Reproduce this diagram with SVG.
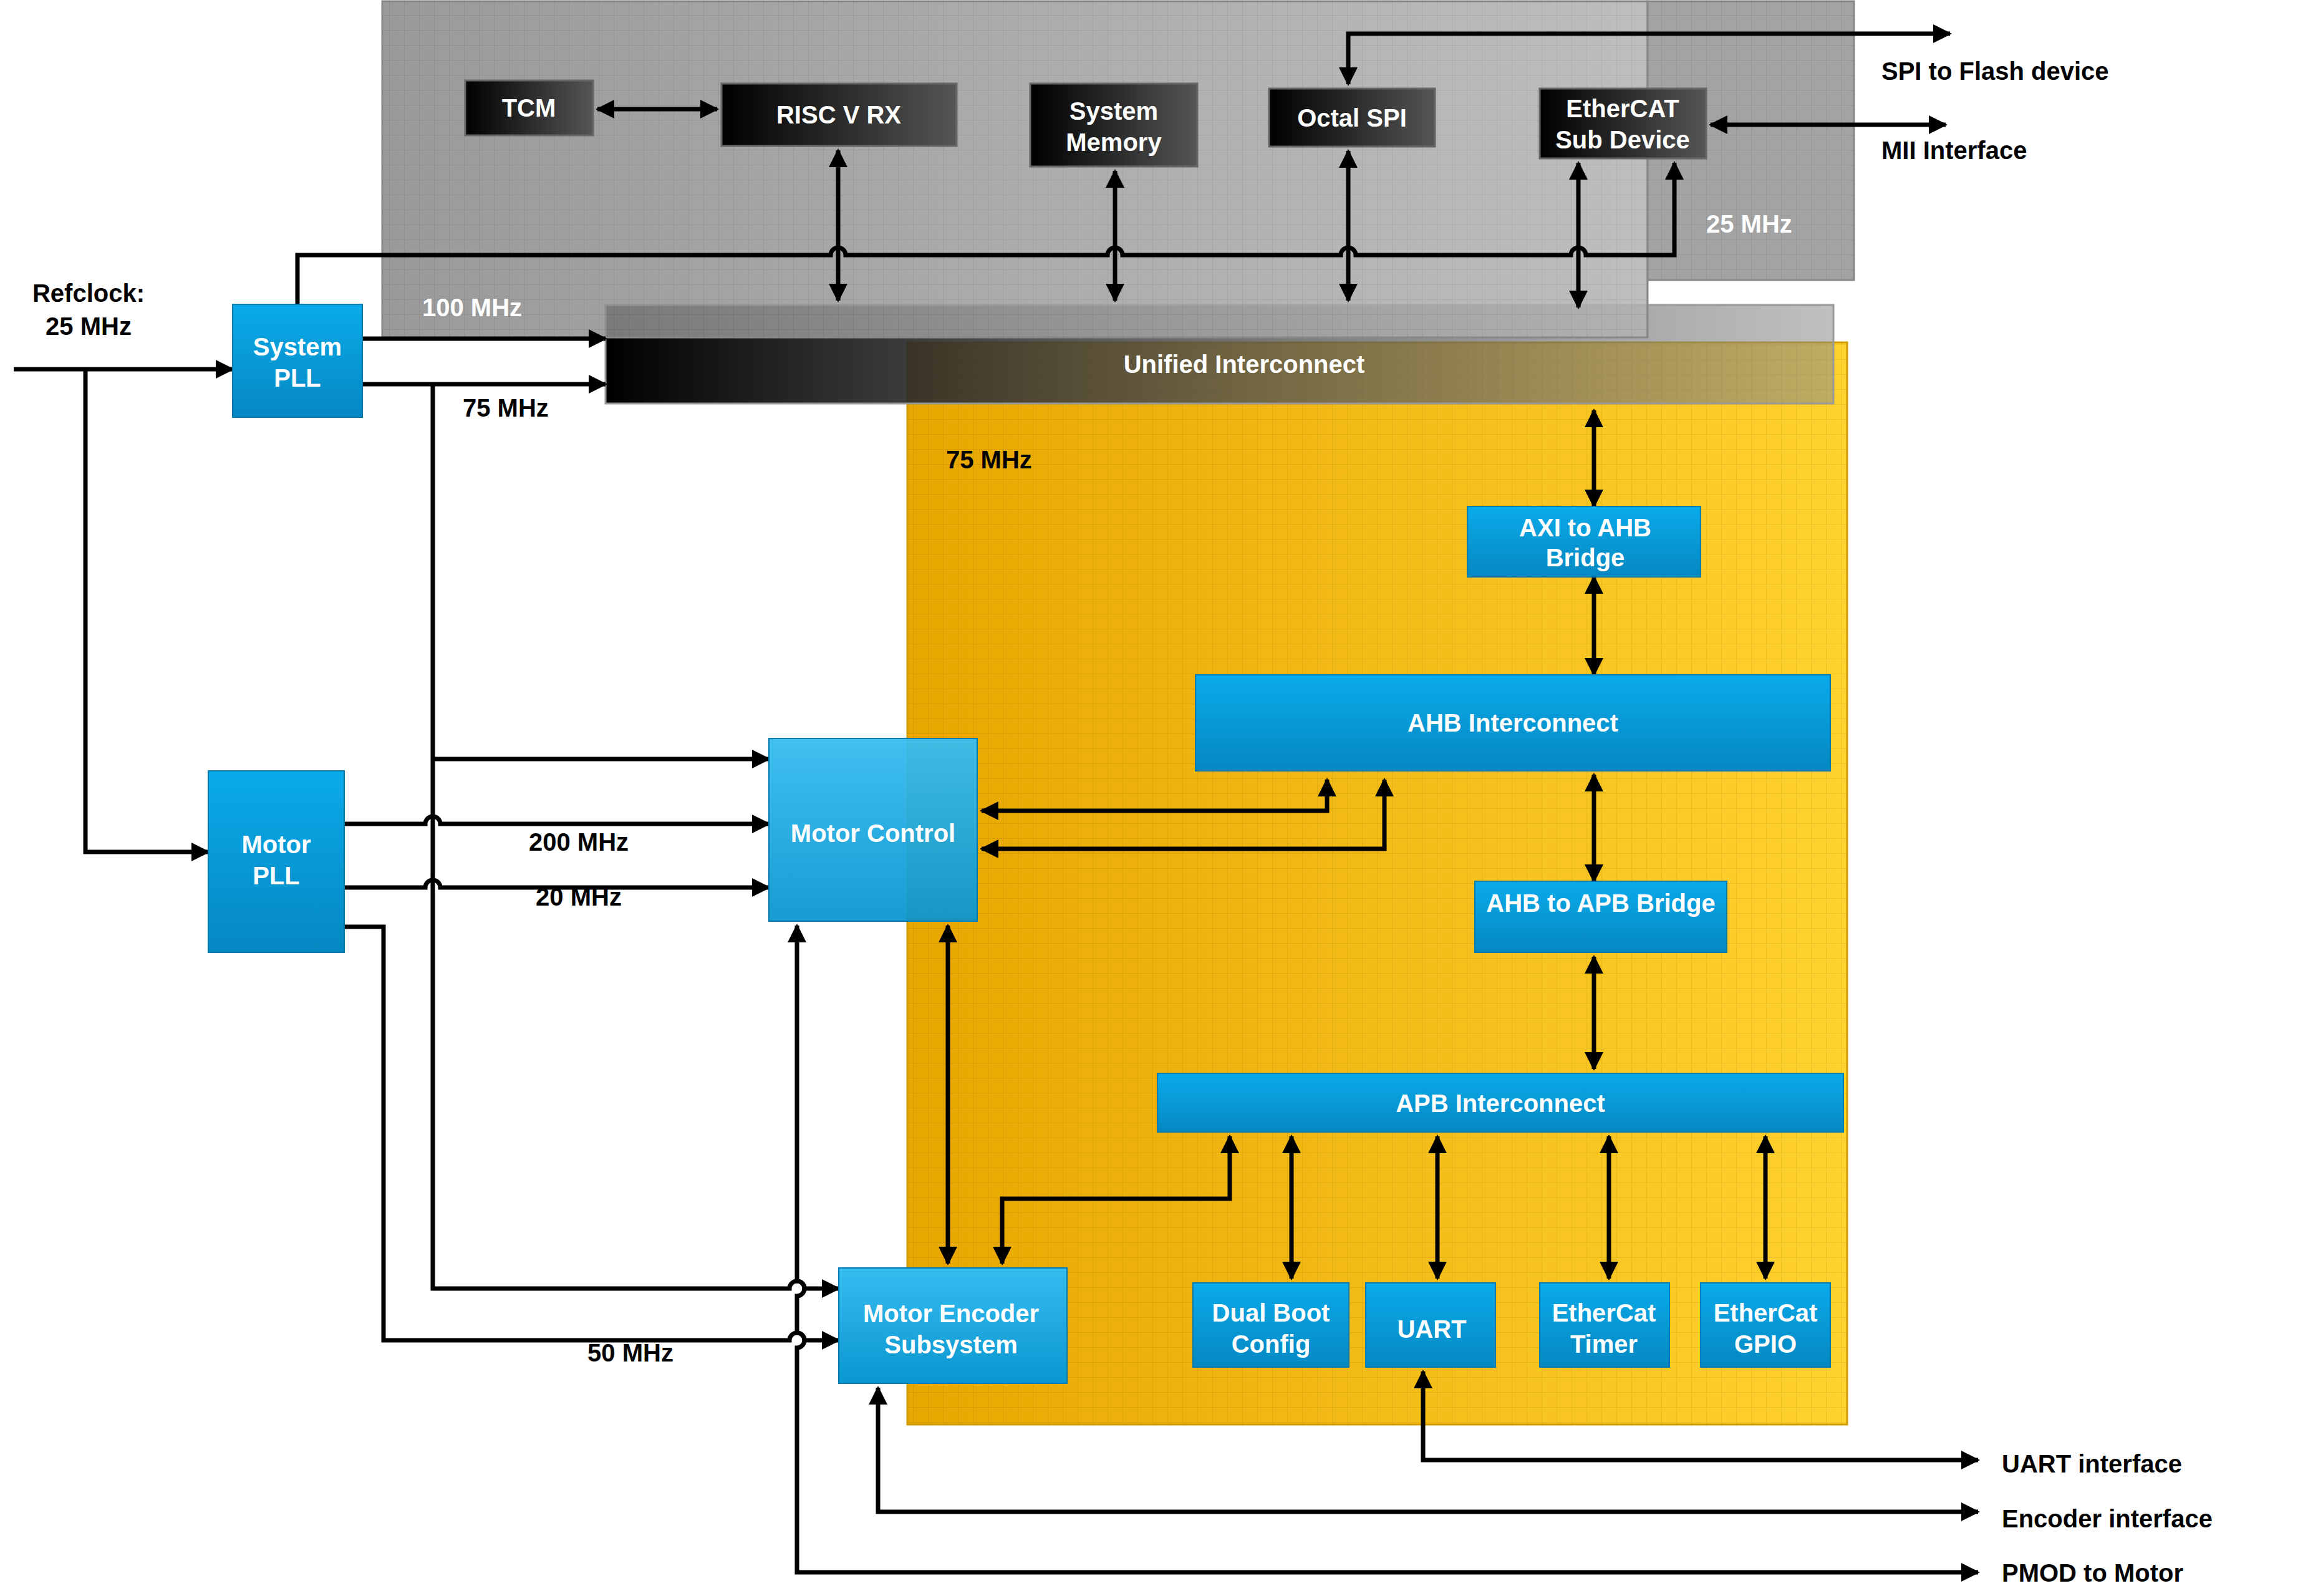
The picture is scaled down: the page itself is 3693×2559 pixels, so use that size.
<svg xmlns="http://www.w3.org/2000/svg" width="3693" height="2559" viewBox="0 0 3693 2559">
<defs>
<linearGradient id="gGray" x1="0" x2="1" y1="0" y2="0"><stop offset="0" stop-color="#888"/><stop offset="1" stop-color="#b2b2b2"/></linearGradient>
<linearGradient id="gYel" x1="0" x2="1" y1="0" y2="0"><stop offset="0" stop-color="#e8a600"/><stop offset="1" stop-color="#ffd22e"/></linearGradient>
<linearGradient id="gUni" x1="0" x2="1" y1="0" y2="0"><stop offset="0" stop-color="#000" stop-opacity="1"/><stop offset="0.3" stop-color="#333" stop-opacity="0.9"/><stop offset="1" stop-color="#8c8c8c" stop-opacity="0.55"/></linearGradient>
<linearGradient id="gBlk" x1="0" x2="1" y1="0" y2="0"><stop offset="0" stop-color="#000"/><stop offset="1" stop-color="#555"/></linearGradient>
<linearGradient id="gBlue" x1="0" x2="0" y1="0" y2="1"><stop offset="0" stop-color="#0aaaea"/><stop offset="1" stop-color="#0588c2"/></linearGradient>
<linearGradient id="gBlue2" x1="0" x2="0" y1="0" y2="1"><stop offset="0" stop-color="#36bdf0"/><stop offset="1" stop-color="#0a96d0"/></linearGradient>
<pattern id="grid" width="24" height="24" patternUnits="userSpaceOnUse"><path d="M24 0H0V24" fill="none" stroke="#000" stroke-opacity="0.07" stroke-width="2"/></pattern>
<marker id="ah" viewBox="0 0 10 10" refX="9" refY="5" markerWidth="30" markerHeight="30" markerUnits="userSpaceOnUse" orient="auto-start-reverse"><path d="M0 0L10 5L0 10z" fill="#000"/></marker>
</defs>
<style>
.l{fill:none;stroke:#000;stroke-width:7}
.t{font-family:"Liberation Sans",Arial,sans-serif;font-weight:bold;font-size:40px;fill:#fff;text-anchor:middle}
.k{font-family:"Liberation Sans",Arial,sans-serif;font-weight:bold;font-size:40px;fill:#000}
.w{font-family:"Liberation Sans",Arial,sans-serif;font-weight:bold;font-size:40px;fill:#fff}
.b{stroke:#0679ad;stroke-width:2}
.d{stroke:#666;stroke-width:3}
</style>
<!-- background regions -->
<rect x="2642" y="2" width="331" height="447" fill="#a3a3a3" stroke="#888" stroke-width="3"/>
<rect x="2642" y="2" width="331" height="447" fill="url(#grid)"/>
<rect x="1455" y="549" width="1507" height="1735" fill="url(#gYel)" stroke="#d09c00" stroke-width="3"/>
<rect x="1455" y="549" width="1507" height="1735" fill="url(#grid)"/>
<g id="unified"><rect x="971" y="489" width="1969" height="158" fill="url(#gUni)" stroke="#999" stroke-width="3"/>
<text class="t" x="1995" y="598">Unified Interconnect</text></g>
<rect x="613" y="2" width="2029" height="539" fill="url(#gGray)" fill-opacity="0.85" stroke="#888" stroke-width="3"/>
<rect x="613" y="2" width="2029" height="539" fill="url(#grid)"/>
<text class="w" x="677" y="507">100 MHz</text>
<text class="w" x="2736" y="373">25 MHz</text>
<text class="k" x="1517" y="751">75 MHz</text>
<text class="k" x="742" y="668">75 MHz</text>
<text class="k" x="928" y="1364" text-anchor="middle">200 MHz</text>
<text class="k" x="928" y="1452" text-anchor="middle">20 MHz</text>
<text class="k" x="1011" y="2183" text-anchor="middle">50 MHz</text>
<text class="k" x="142" y="484" text-anchor="middle">Refclock:</text>
<text class="k" x="142" y="537" text-anchor="middle">25 MHz</text>
<text class="k" x="3017" y="128">SPI to Flash device</text>
<text class="k" x="3017" y="255">MII Interface</text>
<text class="k" x="3210" y="2361">UART interface</text>
<text class="k" x="3210" y="2449">Encoder interface</text>
<text class="k" x="3210" y="2536">PMOD to Motor</text>
<!-- connectors -->
<g id="connectors">
<path class="l" d="M1344 241V482" marker-start="url(#ah)" marker-end="url(#ah)"/>
<path class="l" d="M1788 274V482" marker-start="url(#ah)" marker-end="url(#ah)"/>
<path class="l" d="M2162 242V482" marker-start="url(#ah)" marker-end="url(#ah)"/>
<path class="l" d="M2531 261V493" marker-start="url(#ah)" marker-end="url(#ah)"/>
<path class="l" d="M958 175H1150" marker-start="url(#ah)" marker-end="url(#ah)"/>
<path class="l" d="M2162 135V54H3127" marker-start="url(#ah)" marker-end="url(#ah)"/>
<path class="l" d="M2743 200H3120" marker-start="url(#ah)" marker-end="url(#ah)"/>
<path class="l" d="M477 488V409H1332a12 12 0 0 1 24 0H1776a12 12 0 0 1 24 0H2150a12 12 0 0 1 24 0H2519a12 12 0 0 1 24 0H2685V261" marker-end="url(#ah)"/>
<path class="l" d="M22 592H373" marker-end="url(#ah)"/>
<path class="l" d="M137 592V1366H334" marker-end="url(#ah)"/>
<path class="l" d="M581 543H971" marker-end="url(#ah)"/>
<path class="l" d="M581 616H971" marker-end="url(#ah)"/>
<path class="l" d="M694 616V2066H1266a12 12 0 0 1 24 0H1345" marker-end="url(#ah)"/>
<path class="l" d="M694 1217H1233" marker-end="url(#ah)"/>
<path class="l" d="M552 1321H682a12 12 0 0 1 24 0H1233" marker-end="url(#ah)"/>
<path class="l" d="M552 1423H682a12 12 0 0 1 24 0H1233" marker-end="url(#ah)"/>
<path class="l" d="M552 1486H615V2149H1266a12 12 0 0 1 24 0H1345" marker-end="url(#ah)"/>
<path class="l" d="M1574 1300H2128V1250" marker-start="url(#ah)" marker-end="url(#ah)"/>
<path class="l" d="M1574 1361H2220V1250" marker-start="url(#ah)" marker-end="url(#ah)"/>
<path class="l" d="M2556 658V812" marker-start="url(#ah)" marker-end="url(#ah)"/>
<path class="l" d="M2556 925V1082" marker-start="url(#ah)" marker-end="url(#ah)"/>
<path class="l" d="M2556 1242V1413" marker-start="url(#ah)" marker-end="url(#ah)"/>
<path class="l" d="M2556 1534V1714" marker-start="url(#ah)" marker-end="url(#ah)"/>
<path class="l" d="M1520 1484V2026" marker-start="url(#ah)" marker-end="url(#ah)"/>
<path class="l" d="M1972 1822V1922H1607V2026" marker-start="url(#ah)" marker-end="url(#ah)"/>
<path class="l" d="M2071 1822V2050" marker-start="url(#ah)" marker-end="url(#ah)"/>
<path class="l" d="M2305 1822V2050" marker-start="url(#ah)" marker-end="url(#ah)"/>
<path class="l" d="M2580 1822V2050" marker-start="url(#ah)" marker-end="url(#ah)"/>
<path class="l" d="M2831 1822V2050" marker-start="url(#ah)" marker-end="url(#ah)"/>
<path class="l" d="M2282 2199V2341H3172" marker-start="url(#ah)" marker-end="url(#ah)"/>
<path class="l" d="M1408 2225V2424H3172" marker-start="url(#ah)" marker-end="url(#ah)"/>
<path class="l" d="M1278 1484V2054a12 12 0 0 1 0 24V2137a12 12 0 0 1 0 24V2521H3172" marker-start="url(#ah)" marker-end="url(#ah)"/>
</g>
<!-- nodes -->
<g id="tcm"><rect class="d" x="746" y="129" width="205" height="88" fill="url(#gBlk)"/><text class="t" x="848" y="187">TCM</text></g>
<g id="riscv"><rect class="d" x="1157" y="134" width="377" height="100" fill="url(#gBlk)"/><text class="t" x="1345" y="198">RISC V RX</text></g>
<g id="sysmem"><rect class="d" x="1652" y="134" width="268" height="133" fill="url(#gBlk)"/><text class="t" x="1786" y="192">System</text><text class="t" x="1786" y="242">Memory</text></g>
<g id="octalspi"><rect class="d" x="2035" y="142" width="266" height="93" fill="url(#gBlk)"/><text class="t" x="2168" y="203">Octal SPI</text></g>
<g id="ethercat"><rect class="d" x="2469" y="142" width="267" height="112" fill="url(#gBlk)"/><text class="t" x="2602" y="188">EtherCAT</text><text class="t" x="2602" y="238">Sub Device</text></g>
<g id="syspll"><rect class="b" x="373" y="488" width="208" height="181" fill="url(#gBlue)"/><text class="t" x="477" y="570">System</text><text class="t" x="477" y="620">PLL</text></g>
<g id="motorpll"><rect class="b" x="334" y="1236" width="218" height="291" fill="url(#gBlue)"/><text class="t" x="443" y="1368">Motor</text><text class="t" x="443" y="1418">PLL</text></g>
<g id="motorcontrol"><rect class="b" x="1233" y="1184" width="334" height="293" fill="url(#gBlue2)" fill-opacity="0.95"/><text class="t" x="1400" y="1350">Motor Control</text></g>
<g id="axiahb"><rect class="b" x="2353" y="812" width="374" height="113" fill="url(#gBlue)"/><text class="t" x="2542" y="860">AXI to AHB</text><text class="t" x="2542" y="908">Bridge</text></g>
<g id="ahb"><rect class="b" x="1917" y="1082" width="1018" height="154" fill="url(#gBlue)"/><text class="t" x="2426" y="1173">AHB Interconnect</text></g>
<g id="ahbapb"><rect class="b" x="2365" y="1413" width="404" height="114" fill="url(#gBlue)"/><text class="t" x="2567" y="1462">AHB to APB Bridge</text></g>
<g id="apb"><rect class="b" x="1856" y="1721" width="1100" height="94" fill="url(#gBlue)"/><text class="t" x="2406" y="1783">APB Interconnect</text></g>
<g id="encoder"><rect class="b" x="1345" y="2033" width="366" height="185" fill="url(#gBlue2)"/><text class="t" x="1525" y="2120">Motor Encoder</text><text class="t" x="1525" y="2170">Subsystem</text></g>
<g id="dualboot"><rect class="b" x="1913" y="2057" width="250" height="135" fill="url(#gBlue)"/><text class="t" x="2038" y="2119">Dual Boot</text><text class="t" x="2038" y="2169">Config</text></g>
<g id="uart"><rect class="b" x="2190" y="2057" width="208" height="135" fill="url(#gBlue)"/><text class="t" x="2296" y="2145">UART</text></g>
<g id="ectimer"><rect class="b" x="2469" y="2057" width="208" height="135" fill="url(#gBlue)"/><text class="t" x="2572" y="2119">EtherCat</text><text class="t" x="2572" y="2169">Timer</text></g>
<g id="ecgpio"><rect class="b" x="2727" y="2057" width="208" height="135" fill="url(#gBlue)"/><text class="t" x="2831" y="2119">EtherCat</text><text class="t" x="2831" y="2169">GPIO</text></g>
</svg>
